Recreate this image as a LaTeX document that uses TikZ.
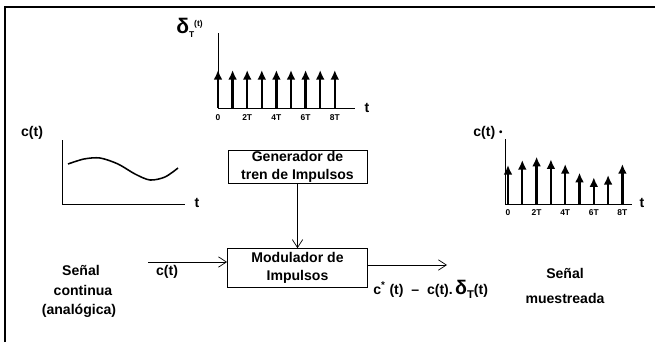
\documentclass[tikz,border=0pt]{standalone}
\usepackage{fontspec}
\setmainfont{Liberation Sans}
\usetikzlibrary{arrows.meta,positioning}
\tikzset{
  bloque/.style={
    rectangle, draw, line width=0.6pt, align=center, inner sep=1pt,
    font=\bfseries\fontsize{10}{12.5}\selectfont
  },
  flecha/.style={draw, -{Straight Barb[length=2mm,width=2.6mm]}, line width=0.5pt},
  impulso/.style={draw, -{Latex[length=2.4mm,width=2.2mm]}, line width=1.6pt},
  eje/.style={draw, line width=0.6pt},
  etiq/.style={font=\bfseries\fontsize{10}{12}\selectfont, inner sep=0pt},
  marca/.style={font=\bfseries\fontsize{6}{7}\selectfont, inner sep=0pt}
}

\begin{document}
\begin{tikzpicture}[x=0.025cm, y=-0.025cm, node distance=1.6cm]
    \useasboundingbox (0,0) rectangle (655,342);
    % Marco
    \draw[line width=1.3pt] (5,342) -- (5,7) -- (660,7);

    % Tren de impulsos
    \draw[eje] (218,33) -- (218,108) -- (355,108);
    \foreach \k in {0,...,8}
      \draw[impulso] ({218+14.6*\k},108) -- ({218+14.6*\k},70);
    \foreach \k/\l in {0/0,2/2T,4/4T,6/6T,8/8T}
      \node[marca] (tm\k) at ({218+14.6*\k},118) {\l};
    \node[etiq] (tt) at (367,108) {t};
    \node[etiq, anchor=west] (delta) at (176,28)
      {{\fontsize{15}{15}\selectfont δ}\raisebox{-3pt}{\fontsize{6}{6}\selectfont T}\raisebox{5pt}{\fontsize{6}{6}\selectfont (t)}};

    % Senal continua
    \draw[eje] (62,140) -- (62,204) -- (185,204);
    \draw[line width=1.1pt] plot[smooth] coordinates
      {(68,164) (84,159) (100,158) (118,164) (135,174) (150,180) (165,177) (178,168)};
    \node[etiq] (ca) at (32,133) {c(t)};
    \node[etiq] (ta) at (197,203) {t};

    % Senal muestreada
    \draw[eje] (505,139) -- (505,204) -- (632,204);
    \foreach \k/\h in {0/165,1/160,2/156.7,3/159.3,4/164,5/172.7,6/177.3,7/175,8/164}
      \draw[impulso] ({508+14.3*\k},204) -- ({508+14.3*\k},\h);
    \foreach \k/\l in {0/0,2/2T,4/4T,6/6T,8/8T}
      \node[marca] (mm\k) at ({508+14.3*\k},213) {\l};
    \node[etiq] (cm) at (488,133) {c(t) \raisebox{1pt}{\fontsize{7}{7}\selectfont •}};
    \node[etiq] (tm) at (642,203) {t};

    % Bloques
    \node[bloque, minimum width=3.475cm, minimum height=0.6cm] (gen) at (297.5,167)
      {Generador de\\tren de Impulsos};
    \node[bloque, minimum width=3.5cm, minimum height=0.975cm, below=1.6cm of gen] (mod)
      {Modulador de\\Impulsos};

    % Flechas
    \coordinate (entrada) at (148,262);
    \coordinate (salida) at (447,265);
    \draw[flecha] (gen) -- (mod);
    \draw[flecha] (entrada) -- (entrada -| mod.west);
    \draw[flecha] (salida -| mod.east) -- (salida);

    % Textos
    \node[etiq] (cin) at (167,272) {c(t)};
    \node[etiq] (sc1) at (81,270) {Señal};
    \node[etiq] (sc2) at (83,290) {continua};
    \node[etiq] (sc3) at (79,311) {(analógica)};
    \node[etiq, anchor=west] (formula) at (373,289)
      {c\textsuperscript{*} (t) \ – \ c(t).\,{\fontsize{14}{14}\selectfont δ}\raisebox{-3pt}{\fontsize{8}{8}\selectfont T}(t)};
    \node[etiq] (sm1) at (565,273) {Señal};
    \node[etiq] (sm2) at (565,298) {muestreada};
\end{tikzpicture}
\end{document}
